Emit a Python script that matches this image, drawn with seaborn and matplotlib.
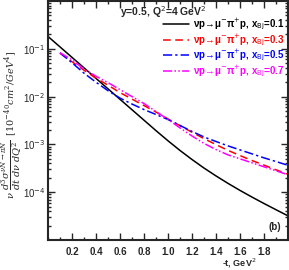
import numpy as np
import pandas as pd
import matplotlib
matplotlib.use("Agg")
import matplotlib.pyplot as plt
import seaborn as sns

# -t (GeV^2) and cross sections
t_black = [0.0, 0.1, 0.2, 0.3, 0.4, 0.5, 0.6, 0.7, 0.8, 0.9, 1.0,
           1.1, 1.2, 1.3, 1.4, 1.5, 1.6, 1.7, 1.8, 1.9, 2.0]
xs_01 = [0.1813, 0.1096, 0.0662, 0.0400, 0.02405, 0.01454, 8.78e-3, 5.31e-3,
         3.21e-3, 1.94e-3, 1.19e-3, 7.47e-4, 4.83e-4, 3.20e-4, 2.19e-4,
         1.53e-4, 1.09e-4, 7.90e-5, 5.80e-5, 4.30e-5, 3.20e-5]

t_col = [0.1, 0.2, 0.3, 0.4, 0.5, 0.6, 0.7, 0.8, 0.9, 1.0,
         1.1, 1.2, 1.3, 1.4, 1.5, 1.6, 1.7, 1.8, 1.9, 2.0]
xs_03 = [8.06e-2, 5.36e-2, 3.565e-2, 2.43e-2, 1.736e-2, 1.211e-2, 8.87e-3,
         6.49e-3, 4.75e-3, 3.40e-3, 2.465e-3, 1.795e-3, 1.32e-3, 9.90e-4,
         7.50e-4, 5.84e-4, 4.60e-4, 3.69e-4, 2.94e-4, 2.37e-4]
xs_05 = [8.25e-2, 5.11e-2, 3.09e-2, 2.00e-2, 1.33e-2, 9.31e-3, 6.98e-3,
         5.36e-3, 4.22e-3, 3.32e-3, 2.49e-3, 1.87e-3, 1.43e-3, 1.15e-3,
         9.31e-4, 7.68e-4, 6.34e-4, 5.23e-4, 4.38e-4, 3.65e-4]
xs_07 = [8.25e-2, 5.90e-2, 3.74e-2, 2.67e-2, 1.96e-2, 1.40e-2, 1.0e-2,
         7.15e-3, 4.87e-3, 3.32e-3, 2.21e-3, 1.50e-3, 1.05e-3, 7.80e-4,
         6.04e-4, 4.99e-4, 4.12e-4, 3.40e-4, 2.81e-4, 2.31e-4]

labels = ['νp→μ$^{-}$π$^{+}$p, x$_{\\rm Bj}$=0.1',
          'νp→μ$^{-}$π$^{+}$p, x$_{\\rm Bj}$=0.3',
          'νp→μ$^{-}$π$^{+}$p, x$_{\\rm Bj}$=0.5',
          'νp→μ$^{-}$π$^{+}$p, x$_{\\rm Bj}$=0.7']
colors = ['black', 'red', 'blue', 'magenta']
styles = ['-', (0, (5, 3)), (0, (6, 2, 1.5, 2)), (0, (6, 1.5, 1, 1.5, 1, 1.5))]

sns.set_style('ticks')
plt.rcParams['font.family'] = ['Liberation Sans', 'DejaVu Sans']
plt.rcParams['mathtext.fontset'] = 'dejavusans'

fig = plt.figure(figsize=(2.89, 2.70), dpi=100)
ax = fig.add_axes([48 / 289, 30 / 270, 240 / 289, 239 / 270])

series = [(t_black, xs_01), (t_col, xs_03), (t_col, xs_05), (t_col, xs_07)]
for (tt, vv), lab, c, ls in zip(series, labels, colors, styles):
    df = pd.DataFrame({'t': tt, 'xs': vv})
    sns.lineplot(data=df, x='t', y='xs', ax=ax, color=c, lw=1.1, label=lab)
    ax.lines[-1].set_linestyle(ls)

ax.set_yscale('log')
ax.set_xlim(0, 2.0)
ax.set_ylim(1e-5, 1.0)
ax.set_xticks([0.2, 0.4, 0.6, 0.8, 1.0, 1.2, 1.4, 1.6, 1.8])
ax.set_xticklabels(['0.2', '0.4', '0.6', '0.8', '1.0', '1.2', '1.4', '1.6', '1.8'],
                   fontweight='bold')
ax.set_yticks([1e-4, 1e-3, 1e-2, 1e-1])
ax.set_yticklabels([r'10$^{-4}$', r'10$^{-3}$', r'10$^{-2}$', r'10$^{-1}$'])
ax.xaxis.set_minor_locator(matplotlib.ticker.MultipleLocator(0.1))
ax.tick_params(which='both', direction='in', top=True, right=True, width=1)
ax.tick_params(which='major', length=5, labelsize=7)
ax.tick_params(axis='x', which='major', pad=5)
ax.tick_params(axis='y', which='major', pad=2)
ax.tick_params(which='minor', length=2.5)
for s in ax.spines.values():
    s.set_linewidth(1.5)

ax.set_xlabel('')
ax.set_ylabel('')
fig.text(239 / 289, 1 - 263 / 270, r'-t, GeV$^2$', fontsize=6.5, fontweight='bold',
         ha='center', va='center')
fig.text(12 / 289, 1 - 125 / 270,
         r'$\nu\ \dfrac{d^3\sigma^{\nu N\rightarrow\pi N}}{dt\ d\nu\ dQ^2}$  '
         r'$[10^{-40}cm^2/GeV^4]$',
         rotation=90, fontsize=7, ha='center', va='center',
         math_fontfamily='dejavuserif')

ax.text(0.30, 0.955, r'y=0.5, Q$^2$=4 GeV$^2$', transform=ax.transAxes,
        fontsize=7.5, fontweight='bold', ha='left', va='center')
ax.text(0.97, 0.055, '(b)', transform=ax.transAxes, fontsize=7,
        fontweight='bold', ha='right', va='center')

leg = ax.legend(loc='upper right', bbox_to_anchor=(1.0, 0.95), frameon=False,
                fontsize=7, handlelength=2.6, handletextpad=0.4,
                labelspacing=0.0, borderaxespad=0.2, borderpad=0.2)
for txt, c in zip(leg.get_texts(), colors):
    txt.set_color(c)
    txt.set_fontweight('bold')

fig.savefig('out.png', dpi=100)
